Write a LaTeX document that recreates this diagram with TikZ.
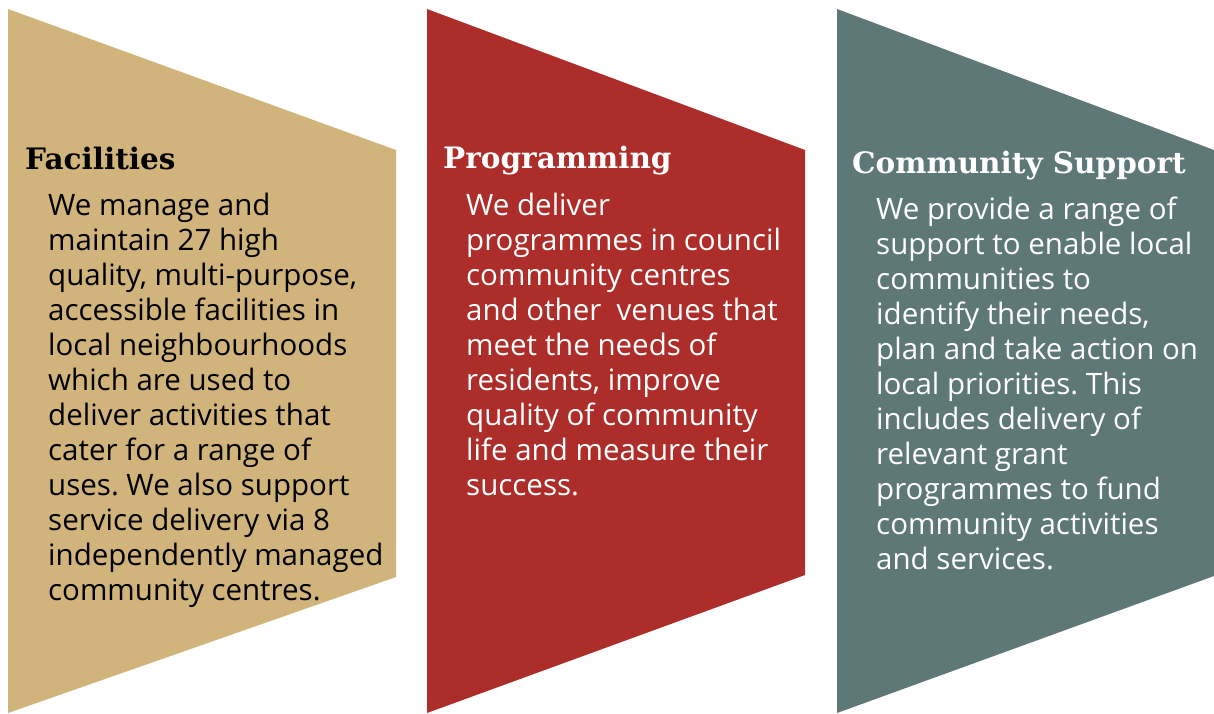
\documentclass[tikz,border=0pt]{standalone}
\usepackage{fontspec}
\setmainfont{Open Sans}
\newfontfamily\titlefont{DejaVu Serif}[BoldFont={DejaVu Serif Bold}]
\definecolor{cgold}{HTML}{D1B47B}
\definecolor{cred}{HTML}{AC2D29}
\definecolor{cteal}{HTML}{5E7777}
\tikzset{
  ttl/.style={anchor=base west, inner sep=0pt, font=\titlefont\bfseries\fontsize{29.5}{32}\selectfont},
  body/.style={anchor=base west, inner sep=0pt},
}
\newcommand{\bodytext}[1]{\parbox[t]{420pt}{\raggedright\frenchspacing\fontsize{29.5}{35}\selectfont #1}}
\begin{document}
\begin{tikzpicture}[x=1pt,y=-1pt]
\useasboundingbox (0,0) rectangle (1214,713);
\fill[cgold] (8,9) -- (396,150) -- (396,577) -- (8,713) -- cycle;
\fill[cred] (427,9) -- (805,150) -- (805,575) -- (427,713) -- cycle;
\fill[cteal] (837,9) -- (1214,150) -- (1214,576) -- (837,713) -- cycle;

\node[ttl, text=black] (t1) at (25,169) {Facilities};
\node[body, text=black] (b1) at (48,215) {\bodytext{We manage and\\
maintain 27 high\\
quality, multi-purpose,\\
accessible facilities in\\
local neighbourhoods\\
which are used to\\
deliver activities that\\
cater for a range of\\
uses. We also support\\
service delivery via 8\\
independently managed\\
community centres.}};

\node[ttl, text=white] (t2) at (443,168) {Programming};
\node[body, text=white] (b2) at (466,215) {\bodytext{We deliver\\
programmes in council\\
community centres\\
and other~ venues that\\
meet the needs of\\
residents, improve\\
quality of community\\
life and measure their\\
success.}};

\node[ttl, text=white] (t3) at (852,173) {Community Support};
\node[body, text=white] (b3) at (876,219) {\bodytext{We provide a range of\\
support to enable local\\
communities to\\
identify their needs,\\
plan and take action on\\
local priorities. This\\
includes delivery of\\
relevant grant\\
programmes to fund\\
community activities\\
and services.}};
\end{tikzpicture}
\end{document}
